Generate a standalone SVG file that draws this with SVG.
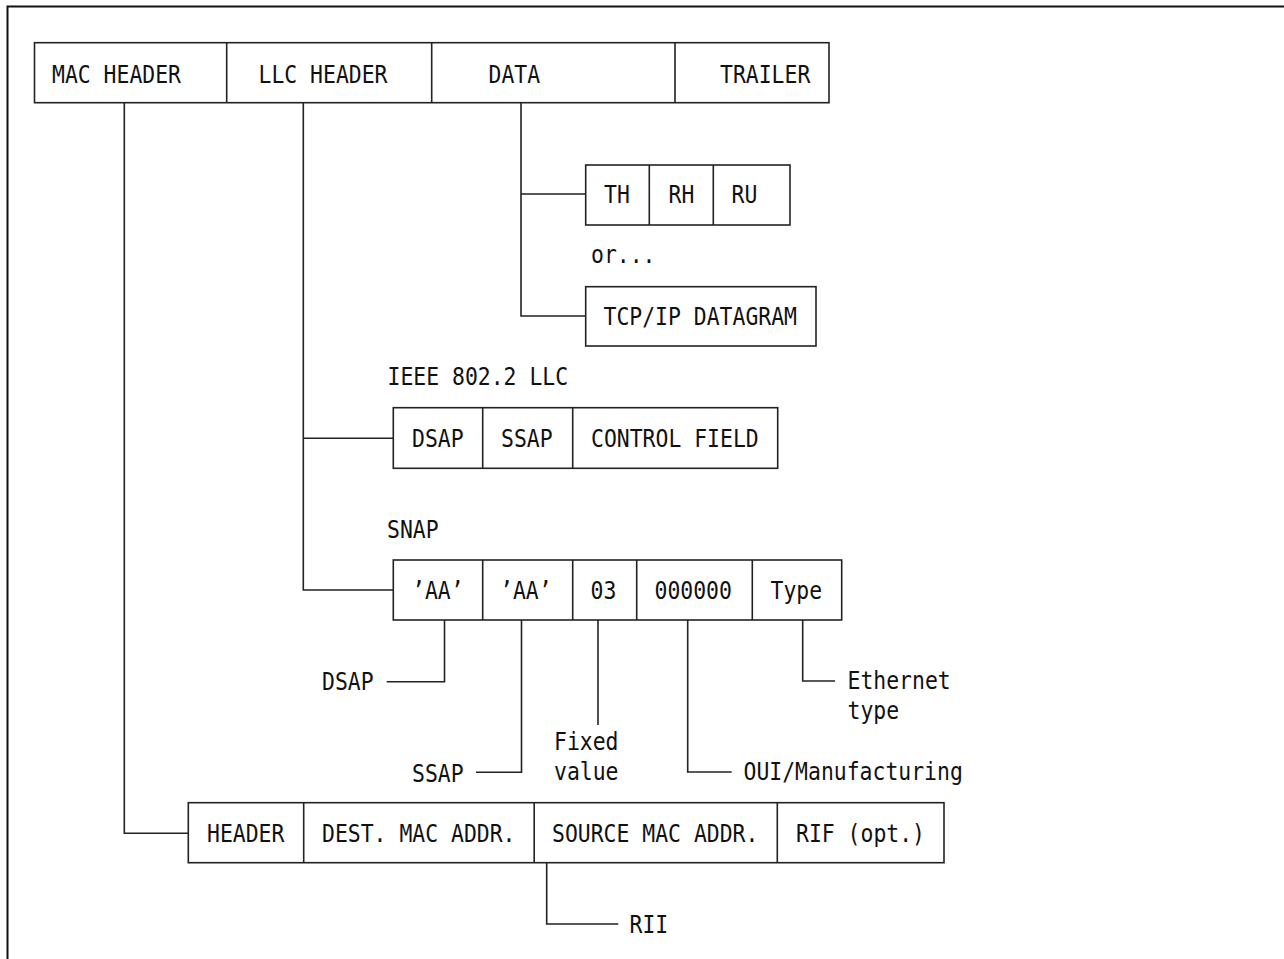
<svg xmlns="http://www.w3.org/2000/svg" width="1284" height="959" viewBox="0 0 1284 959">
<style>
.frame{fill:none;stroke:#111;stroke-width:2}
.box{fill:none;stroke:#222;stroke-width:1.6}
.ln{fill:none;stroke:#222;stroke-width:1.6}
text{font-family:"DejaVu Sans Mono","Liberation Mono",monospace;font-size:24px;fill:#111}
</style>
<rect width="1284" height="959" fill="#fff"/>
<path class="frame" d="M7.5,959 V6.5 H1284"/>

<g id="connectors">
  <path class="ln" d="M124.3,102.7 V833.3 H188.3"/>
  <path class="ln" d="M303.3,102.7 V590 H393.3 M303.3,438.3 H393.3"/>
  <path class="ln" d="M521,102.7 V316 H585.7 M521,194 H585.7"/>
  <path class="ln" d="M444.5,620 V681.7 H386.7"/>
  <path class="ln" d="M521.5,620 V772.3 H476"/>
  <path class="ln" d="M598,620 V725"/>
  <path class="ln" d="M687.7,620 V772 H731.7"/>
  <path class="ln" d="M802.7,620 V681 H835"/>
  <path class="ln" d="M546.7,862.7 V924 H618.3"/>
</g>

<g id="frame-top">
  <rect class="box" x="34.5" y="42.7" width="794.5" height="60"/>
  <path class="ln" d="M226.7,42.7 V102.7 M431.7,42.7 V102.7 M675,42.7 V102.7"/>
  <text x="52" y="82.5" textLength="129" lengthAdjust="spacingAndGlyphs">MAC HEADER</text>
  <text x="258.5" y="82.5" textLength="129" lengthAdjust="spacingAndGlyphs">LLC HEADER</text>
  <text x="488.5" y="82.5" textLength="51.6" lengthAdjust="spacingAndGlyphs">DATA</text>
  <text x="720" y="82.5" textLength="90.3" lengthAdjust="spacingAndGlyphs">TRAILER</text>
</g>

<g id="sna-data">
  <rect class="box" x="585.7" y="165" width="204.3" height="60"/>
  <path class="ln" d="M649.3,165 V225 M713.3,165 V225"/>
  <text x="604" y="203" textLength="25.8" lengthAdjust="spacingAndGlyphs">TH</text>
  <text x="668.5" y="203" textLength="25.8" lengthAdjust="spacingAndGlyphs">RH</text>
  <text x="731.5" y="203" textLength="25.8" lengthAdjust="spacingAndGlyphs">RU</text>
</g>

<g id="or-label">
  <text x="591" y="263" textLength="64.5" lengthAdjust="spacingAndGlyphs">or...</text>
</g>

<g id="tcpip-data">
  <rect class="box" x="585.7" y="286.7" width="230.3" height="59.3"/>
  <text x="603.5" y="325" textLength="193.5" lengthAdjust="spacingAndGlyphs">TCP/IP DATAGRAM</text>
</g>

<g id="ieee-llc">
  <text x="387.5" y="385" textLength="180.6" lengthAdjust="spacingAndGlyphs">IEEE 802.2 LLC</text>
  <rect class="box" x="393.3" y="407.7" width="384.4" height="60.6"/>
  <path class="ln" d="M482.7,407.7 V468.3 M572.7,407.7 V468.3"/>
  <text x="412" y="446.5" textLength="51.6" lengthAdjust="spacingAndGlyphs">DSAP</text>
  <text x="501" y="446.5" textLength="51.6" lengthAdjust="spacingAndGlyphs">SSAP</text>
  <text x="591" y="446.5" textLength="167.7" lengthAdjust="spacingAndGlyphs">CONTROL FIELD</text>
</g>

<g id="snap">
  <text x="387" y="538" textLength="51.6" lengthAdjust="spacingAndGlyphs">SNAP</text>
  <rect class="box" x="393.3" y="560" width="448.4" height="60"/>
  <path class="ln" d="M482.7,560 V620 M572.7,560 V620 M636.7,560 V620 M752.3,560 V620"/>
  <text x="412" y="598.5" textLength="51.6" lengthAdjust="spacingAndGlyphs">’AA’</text>
  <text x="500" y="598.5" textLength="51.6" lengthAdjust="spacingAndGlyphs">’AA’</text>
  <text x="590.5" y="598.5" textLength="25.8" lengthAdjust="spacingAndGlyphs">03</text>
  <text x="654.5" y="598.5" textLength="77.4" lengthAdjust="spacingAndGlyphs">000000</text>
  <text x="770.5" y="598.5" textLength="51.6" lengthAdjust="spacingAndGlyphs">Type</text>
</g>

<g id="snap-labels">
  <text x="322" y="690" textLength="51.6" lengthAdjust="spacingAndGlyphs">DSAP</text>
  <text x="412" y="781.5" textLength="51.6" lengthAdjust="spacingAndGlyphs">SSAP</text>
  <text x="554" y="750" textLength="64.5" lengthAdjust="spacingAndGlyphs">Fixed</text>
  <text x="554" y="780" textLength="64.5" lengthAdjust="spacingAndGlyphs">value</text>
  <text x="743.5" y="780" textLength="219.3" lengthAdjust="spacingAndGlyphs">OUI/Manufacturing</text>
  <text x="847.5" y="689" textLength="103.2" lengthAdjust="spacingAndGlyphs">Ethernet</text>
  <text x="847.5" y="719" textLength="51.6" lengthAdjust="spacingAndGlyphs">type</text>
</g>

<g id="mac-header">
  <rect class="box" x="188.3" y="802.7" width="755.7" height="60"/>
  <path class="ln" d="M303.7,802.7 V862.7 M534.2,802.7 V862.7 M777.3,802.7 V862.7"/>
  <text x="207" y="842" textLength="77.4" lengthAdjust="spacingAndGlyphs">HEADER</text>
  <text x="322" y="842" textLength="193.5" lengthAdjust="spacingAndGlyphs">DEST. MAC ADDR.</text>
  <text x="552" y="842" textLength="206.4" lengthAdjust="spacingAndGlyphs">SOURCE MAC ADDR.</text>
  <text x="796" y="842" textLength="129" lengthAdjust="spacingAndGlyphs">RIF (opt.)</text>
</g>

<g id="rii-label">
  <text x="629.5" y="932.5" textLength="38.7" lengthAdjust="spacingAndGlyphs">RII</text>
</g>
</svg>
